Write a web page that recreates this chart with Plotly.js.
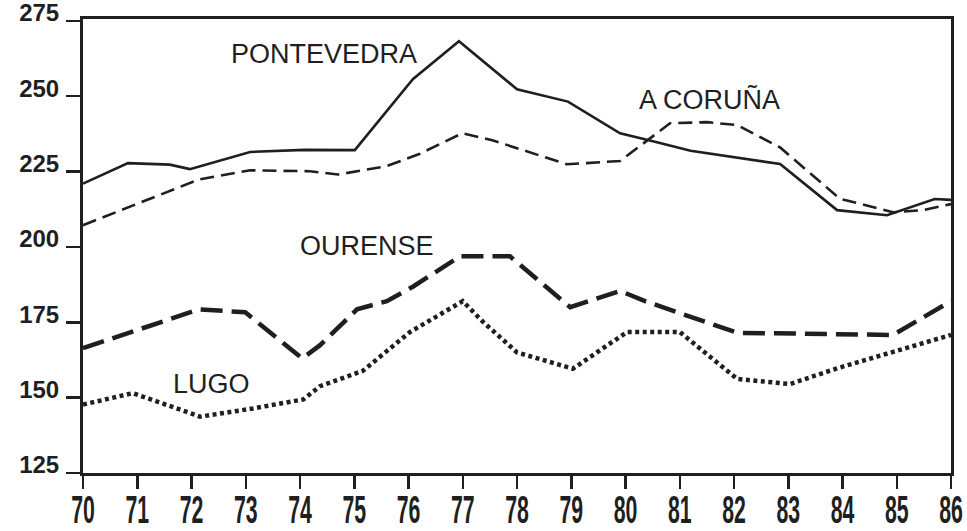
<!DOCTYPE html>
<html>
<head>
<meta charset="utf-8">
<script src="https://cdn.plot.ly/plotly-3.0.1.min.js"></script>
<style>html,body{margin:0;padding:0;background:#fff;} #chart{width:967px;height:531px;}</style>
</head>
<body>
<div id="chart"></div>
<script>
// Data (x = year, 70 = 1970)
const pontevedraX = [70, 70.83, 71.6, 71.97, 73.08, 74.09, 75.01, 76.08, 76.93, 78.0, 78.94, 79.9, 80.45, 81.2, 82.85, 83.9, 84.82, 85.7, 86];
const pontevedraY = [221, 227.8, 227.3, 225.8, 231.5, 232.2, 232.1, 255.6, 268.2, 252.3, 248.2, 237.7, 235.3, 231.9, 227.5, 212.2, 210.5, 215.9, 215.6];

const corunaX = [70, 72.14, 73.08, 74.18, 74.7, 75.6, 76.21, 76.99, 77.56, 78.92, 79.9, 80.45, 80.82, 81.5, 82.06, 82.85, 83.95, 84.93, 85.48, 86];
const corunaY = [207.2, 222.4, 225.4, 225.1, 224, 226.8, 230.9, 237.7, 235.3, 227.4, 228.5, 236, 241, 241.4, 240.4, 233, 216, 211.5, 212.2, 214.2];

const ourenseX = [70, 72.14, 72.99, 74.04, 74.37, 75.05, 75.6, 76.08, 76.95, 77.87, 78.98, 79.9, 80.36, 82.06, 84.93, 86];
const ourenseY = [166.4, 179.3, 178.3, 163, 167.4, 179.3, 182, 186.8, 196.9, 196.9, 180, 185.4, 182, 171.5, 170.8, 182];

const lugoX = [70, 70.92, 72.16, 73.13, 74.06, 74.37, 75.16, 76.03, 77.0, 77.37, 78.0, 79.03, 80.03, 81.0, 82.06, 83.03, 83.95, 86];
const lugoY = [147.7, 151.5, 143.7, 146.4, 149.4, 153.8, 158.9, 171.8, 182, 175.2, 165, 159.6, 171.8, 171.8, 156.2, 154.5, 160, 170.8];

const yTicks = [125, 150, 175, 200, 225, 250, 275];
const xTicks = [70, 71, 72, 73, 74, 75, 76, 77, 78, 79, 80, 81, 82, 83, 84, 85, 86];
const seriesNames = ['PONTEVEDRA', 'A CORUÑA', 'OURENSE', 'LUGO'];

const ink = '#1f1f1f';
const traces = [
  {x: pontevedraX, y: pontevedraY, name: seriesNames[0], mode: 'lines', line: {color: ink, width: 2.6}},
  {x: corunaX, y: corunaY, name: seriesNames[1], mode: 'lines', line: {color: ink, width: 2.6, dash: '14px,7px'}},
  {x: ourenseX, y: ourenseY, name: seriesNames[2], mode: 'lines', line: {color: ink, width: 4.5, dash: '22px,9px'}},
  {x: lugoX, y: lugoY, name: seriesNames[3], mode: 'lines', line: {color: ink, width: 4.5, dash: '4px,3.5px'}}
];

const labelFont = {family: 'Liberation Sans, Arial, sans-serif', size: 27, color: ink};
const layout = {
  width: 967, height: 531,
  margin: {l: 83, r: 16, t: 19, b: 58},
  paper_bgcolor: '#fff', plot_bgcolor: '#fff',
  showlegend: false,
  xaxis: {
    range: [70, 86], tickvals: xTicks, ticktext: xTicks.map(String),
    showgrid: false, zeroline: false,
    showline: true, linecolor: ink, linewidth: 3, mirror: true,
    ticks: 'outside', ticklen: 13, tickwidth: 2.5, tickcolor: ink,
    ticklabelstandoff: -12, ticklabeloverflow: 'allow',
    tickfont: {family: 'Liberation Sans, Arial, sans-serif', size: 38, weight: 'bold', color: ink}
  },
  yaxis: {
    range: [125, 275.6], tickvals: yTicks, ticktext: yTicks.map(String),
    showgrid: false, zeroline: false,
    showline: true, linecolor: ink, linewidth: 3, mirror: true,
    ticks: 'outside', ticklen: 14, tickwidth: 2.5, tickcolor: ink,
    ticklabelshift: -8, ticklabelstandoff: 2, ticklabeloverflow: 'allow',
    tickfont: {family: 'Liberation Sans, Arial, sans-serif', size: 24, weight: 'bold', color: ink}
  },
  annotations: [
    {x: 74.44, y: 264, text: seriesNames[0], showarrow: false, xanchor: 'center', yanchor: 'middle', font: labelFont},
    {x: 81.54, y: 248.9, text: seriesNames[1], showarrow: false, xanchor: 'center', yanchor: 'middle', font: labelFont},
    {x: 75.23, y: 200.3, text: seriesNames[2], showarrow: false, xanchor: 'center', yanchor: 'middle', font: labelFont},
    {x: 72.37, y: 154.5, text: seriesNames[3], showarrow: false, xanchor: 'center', yanchor: 'middle', font: labelFont}
  ]
};

// Condense the bold x tick labels horizontally, like the reference's condensed face
function condenseXLabels() {
  document.querySelectorAll('#chart .xtick text').forEach(function (t) {
    if (t.getAttribute('data-condensed')) return;
    const base = t.getAttribute('transform') || '';
    const x = parseFloat(t.getAttribute('x')) || 0;
    t.setAttribute('transform', base + ' translate(' + x + ',0) scale(0.56,1) translate(' + (-x) + ',0)');
    t.setAttribute('data-condensed', '1');
  });
}

Plotly.newPlot('chart', traces, layout, {staticPlot: true, displayModeBar: false}).then(condenseXLabels);
</script>
</body>
</html>
